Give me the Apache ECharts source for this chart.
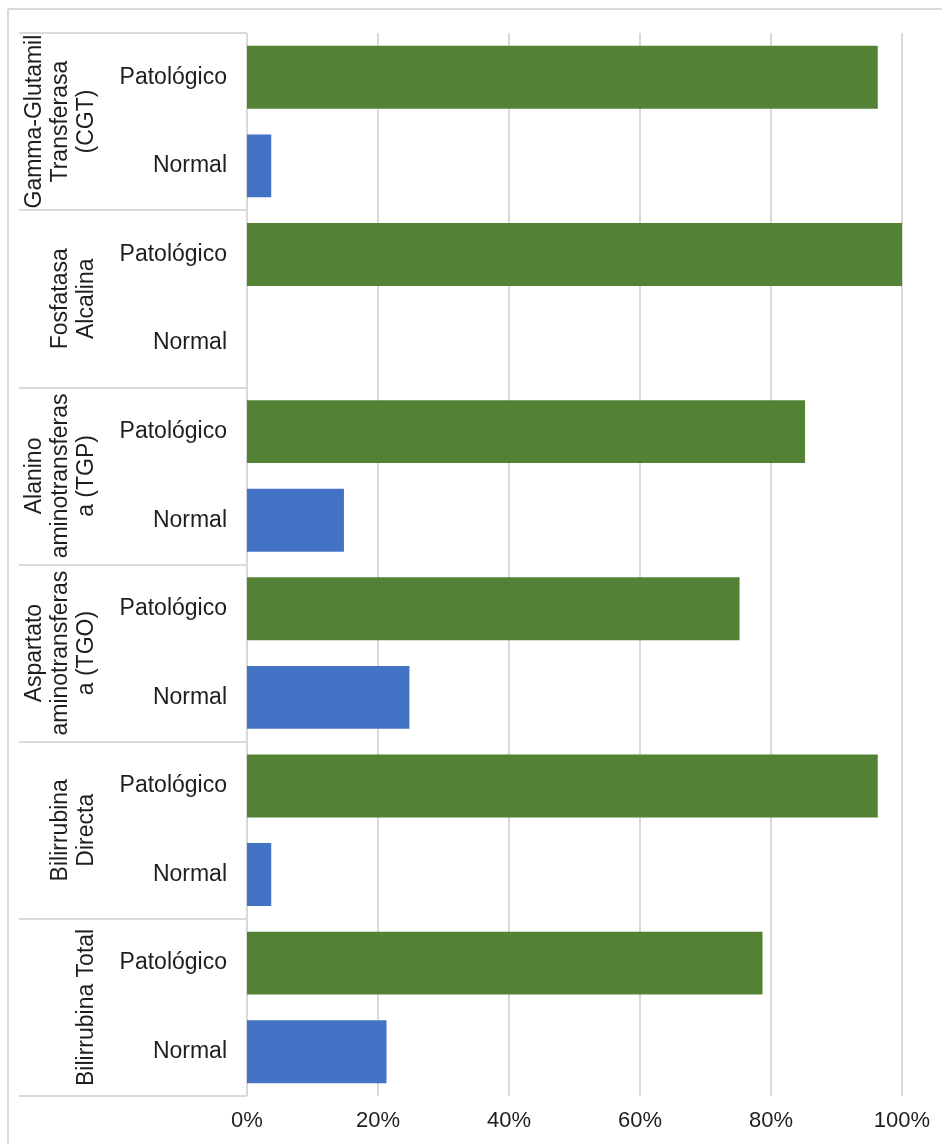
<!DOCTYPE html>
<html>
<head>
<meta charset="utf-8">
<script src="https://cdn.jsdelivr.net/npm/echarts@6/dist/echarts.min.js"></script>
<style>
  html, body { margin: 0; padding: 0; background: #ffffff; }
  #chart { width: 942px; height: 1144px; }
</style>
</head>
<body>
<div id="chart"></div>
<script>
// Liver function tests: share of pathological vs. normal results (%)
const groups = [
  'Gamma-Glutamil\nTransferasa\n(CGT)',
  'Fosfatasa\nAlcalina',
  'Alanino\naminotransferas\na (TGP)',
  'Aspartato\naminotransferas\na (TGO)',
  'Bilirrubina\nDirecta',
  'Bilirrubina Total'
];
const subcategories = ['Patológico', 'Normal'];
const patologico = [96.3, 100, 85.2, 75.2, 96.3, 78.7];
const normal = [3.7, 0, 14.8, 24.8, 3.7, 21.3];
const xTicks = [0, 20, 40, 60, 80, 100];

// One row per (test, result) pair; keys stay unique, the label shows only the result
const rowKeys = [];
const patRows = [];
const normRows = [];
groups.forEach((g, i) => {
  rowKeys.push(i + '|' + subcategories[0]);
  patRows.push(patologico[i]);
  normRows.push('-');
  rowKeys.push(i + '|' + subcategories[1]);
  patRows.push('-');
  normRows.push(normal[i]);
});

const FONT = '"Liberation Sans", Arial, sans-serif';
const TEXT = '#1e1e1e';
const RULE = '#d9d9d9';

const chart = echarts.init(document.getElementById('chart'), null, { renderer: 'canvas' });
chart.setOption({
  animation: false,
  backgroundColor: '#ffffff',
  textStyle: { fontFamily: FONT },
  graphic: [
    // chart frame (left and top edges visible)
    { type: 'line', shape: { x1: 8, y1: 9, x2: 8, y2: 1144 }, style: { stroke: RULE, lineWidth: 2 } },
    { type: 'line', shape: { x1: 8, y1: 9, x2: 942, y2: 9 }, style: { stroke: RULE, lineWidth: 2 } }
  ],
  grid: { left: 247, right: 40, top: 33, bottom: 48, containLabel: false },
  xAxis: {
    type: 'value',
    min: xTicks[0],
    max: xTicks[xTicks.length - 1],
    interval: 20,
    axisLine: { show: false },
    axisTick: { show: false },
    splitLine: { show: true, lineStyle: { color: RULE, width: 2 } },
    axisLabel: {
      formatter: '{value}%',
      fontSize: 22,
      color: TEXT,
      fontFamily: FONT,
      margin: 14
    }
  },
  yAxis: [
    {
      type: 'category',
      data: rowKeys,
      inverse: true,
      position: 'left',
      axisLine: { show: false },
      axisTick: { show: false },
      axisLabel: {
        interval: 0,
        formatter: v => v.split('|')[1],
        fontSize: 23,
        color: TEXT,
        fontFamily: FONT,
        margin: 20
      }
    },
    {
      type: 'category',
      data: groups,
      inverse: true,
      position: 'left',
      axisLine: { show: false },
      axisTick: {
        show: true,
        interval: 0,
        length: 228,
        alignWithLabel: false,
        lineStyle: { color: RULE, width: 2 }
      },
      axisLabel: {
        interval: 0,
        hideOverlap: false,
        rotate: 90,
        fontSize: 23,
        lineHeight: 26,
        color: TEXT,
        fontFamily: FONT,
        margin: 147
      }
    }
  ],
  series: [
    {
      name: subcategories[0],
      type: 'bar',
      stack: 'rows',
      yAxisIndex: 0,
      data: patRows,
      barWidth: '71%',
      itemStyle: { color: '#548235' }
    },
    {
      name: subcategories[1],
      type: 'bar',
      stack: 'rows',
      yAxisIndex: 0,
      data: normRows,
      barWidth: '71%',
      itemStyle: { color: '#4472c4' }
    }
  ]
});
</script>
</body>
</html>
